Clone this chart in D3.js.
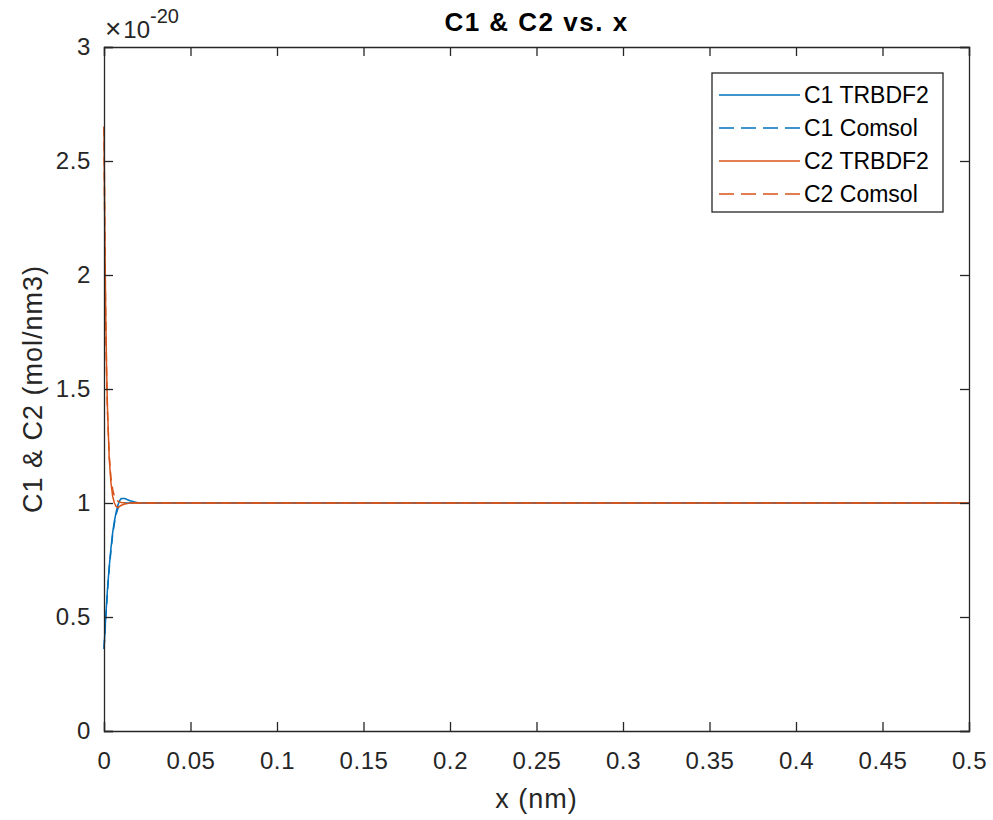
<!DOCTYPE html>
<html>
<head>
<meta charset="utf-8">
<script src="https://cdn.jsdelivr.net/npm/d3@7"></script>
<style>
  html, body { margin: 0; padding: 0; background: #fff; }
  svg { display: block; font-family: "Liberation Sans", Arial, Helvetica, sans-serif; }
</style>
</head>
<body>
<svg id="chart" width="993" height="820"></svg>
<script>
// Sample positions along x (nm)
const xs = [0, 0.0005, 0.001, 0.0015, 0.002, 0.003, 0.004, 0.005, 0.006, 0.007,
            0.008, 0.009, 0.010, 0.012, 0.015, 0.020, 0.030, 0.050, 0.100, 0.200,
            0.300, 0.400, 0.500];

// Concentrations (units of 1e-20 mol/nm3)
const c1Trbdf2 = [0.36, 0.43, 0.50, 0.56, 0.62, 0.72, 0.80, 0.87, 0.92, 0.96,
                  0.99, 1.01, 1.02, 1.02, 1.01, 1.00, 1.00, 1.00, 1.00, 1.00,
                  1.00, 1.00, 1.00];
const c1Comsol = [0.36, 0.42, 0.49, 0.55, 0.61, 0.71, 0.79, 0.86, 0.91, 0.95,
                  0.975, 0.99, 0.995, 1.00, 1.00, 1.00, 1.00, 1.00, 1.00, 1.00,
                  1.00, 1.00, 1.00];
const c2Trbdf2 = [2.65, 2.17, 1.83, 1.59, 1.42, 1.20, 1.09, 1.03, 1.00, 0.985,
                  0.98, 0.985, 0.99, 0.995, 1.00, 1.00, 1.00, 1.00, 1.00, 1.00,
                  1.00, 1.00, 1.00];
const c2Comsol = [2.65, 2.15, 1.80, 1.57, 1.40, 1.21, 1.11, 1.06, 1.03, 1.015,
                  1.008, 1.004, 1.002, 1.00, 1.00, 1.00, 1.00, 1.00, 1.00, 1.00,
                  1.00, 1.00, 1.00];

const xTicks = [0, 0.05, 0.1, 0.15, 0.2, 0.25, 0.3, 0.35, 0.4, 0.45, 0.5];
const yTicks = [0, 0.5, 1, 1.5, 2, 2.5, 3];

const seriesNames = ["C1 TRBDF2", "C1 Comsol", "C2 TRBDF2", "C2 Comsol"];
const seriesValues = [c1Trbdf2, c1Comsol, c2Trbdf2, c2Comsol];
const seriesColors = ["#0072BD", "#0072BD", "#D95319", "#D95319"];
const seriesDashed = [false, true, false, true];

const axisColor = "#262626";
const margin = { left: 104, right: 24, top: 47, bottom: 89 };
const W = 993, H = 820;
const cx = (margin.left + W - margin.right) / 2;

const svg = d3.select("#chart");
const x = d3.scaleLinear().domain([0, 0.5]).range([margin.left, W - margin.right]);
const y = d3.scaleLinear().domain([0, 3]).range([H - margin.bottom, margin.top]);

// Curves
const line = d3.line().x((d, i) => x(xs[i])).y(d => y(d));
const plot = svg.append("g");
seriesValues.forEach((vals, k) => {
  plot.append("path")
    .datum(vals)
    .attr("d", line)
    .attr("fill", "none")
    .attr("stroke", seriesColors[k])
    .attr("stroke-width", 1.5)
    .attr("stroke-dasharray", seriesDashed[k] ? "9,6" : null);
});

// Axes (ticks pointing inward, box on all sides)
const tickLen = 9;
const fmt = d => String(+d.toFixed(2));
const axB = d3.axisBottom(x).tickValues(xTicks).tickSize(-tickLen).tickPadding(21).tickFormat(fmt);
const axT = d3.axisTop(x).tickValues(xTicks).tickSize(-tickLen).tickFormat("");
const axL = d3.axisLeft(y).tickValues(yTicks).tickSize(-tickLen).tickPadding(13).tickFormat(fmt);
const axR = d3.axisRight(y).tickValues(yTicks).tickSize(-tickLen).tickFormat("");

function style(g) {
  g.selectAll("path.domain").attr("stroke", axisColor).attr("stroke-width", 1.3);
  g.selectAll(".tick line").attr("stroke", axisColor).attr("stroke-width", 1.3);
  g.selectAll(".tick text").attr("fill", axisColor).attr("font-size", 24)
    .attr("letter-spacing", 0.6)
    .attr("font-family", "Liberation Sans, Arial, sans-serif");
}
svg.append("g").attr("transform", `translate(0,${H - margin.bottom})`).call(axB).call(style);
svg.append("g").attr("transform", `translate(0,${margin.top})`).call(axT).call(style);
svg.append("g").attr("transform", `translate(${margin.left},0)`).call(axL).call(style);
svg.append("g").attr("transform", `translate(${W - margin.right},0)`).call(axR).call(style);

// Exponent marker
const expo = svg.append("text")
  .attr("x", 105).attr("y", 38)
  .attr("fill", axisColor).attr("font-size", 24);
expo.append("tspan").attr("font-size", 28).text("\u00d7");
expo.append("tspan").attr("dx", 2).text("10");
expo.append("tspan").attr("dy", -15).attr("font-size", 20).text("-20");

// Title and axis labels
svg.append("text").attr("x", cx).attr("y", 31)
  .attr("text-anchor", "middle").attr("font-size", 26).attr("font-weight", "bold")
  .attr("letter-spacing", 1.5)
  .attr("fill", "#000").text("C1 & C2 vs. x");
svg.append("text").attr("x", cx).attr("y", 808)
  .attr("text-anchor", "middle").attr("font-size", 27).attr("letter-spacing", 1)
  .attr("fill", axisColor).text("x (nm)");
svg.append("text")
  .attr("transform", `translate(42,${(margin.top + H - margin.bottom) / 2}) rotate(-90)`)
  .attr("text-anchor", "middle").attr("font-size", 27).attr("letter-spacing", 1)
  .attr("fill", axisColor)
  .text("C1 & C2 (mol/nm3)");

// Legend
const lg = svg.append("g").attr("transform", "translate(712,73)");
lg.append("rect").attr("width", 231).attr("height", 139)
  .attr("fill", "#fff").attr("stroke", axisColor).attr("stroke-width", 1.3);
seriesNames.forEach((name, k) => {
  const ry = 22 + k * 33;
  lg.append("line").attr("x1", 7).attr("x2", 88).attr("y1", ry).attr("y2", ry)
    .attr("stroke", seriesColors[k]).attr("stroke-width", 1.5)
    .attr("stroke-dasharray", seriesDashed[k] ? "15,7" : null);
  lg.append("text").attr("x", 92).attr("y", ry + 8).attr("font-size", 23)
    .attr("fill", "#000").text(name);
});
</script>
</body>
</html>
